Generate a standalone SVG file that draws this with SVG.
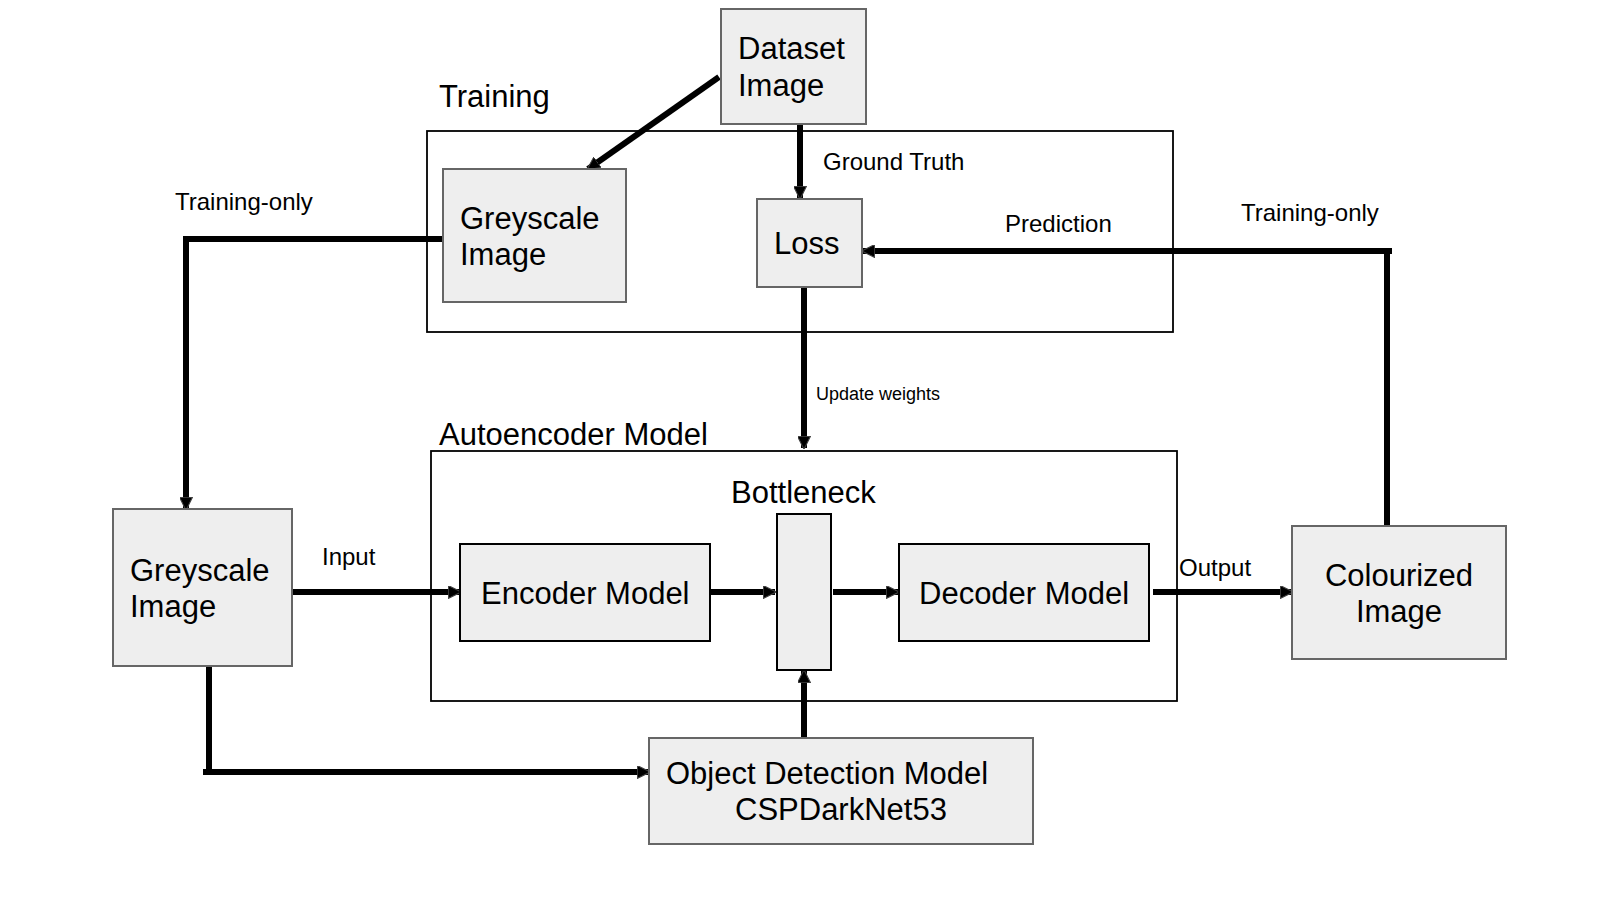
<svg xmlns="http://www.w3.org/2000/svg" width="1600" height="900" viewBox="0 0 1600 900">
<style>
.big{font-family:"Liberation Sans",Arial,sans-serif;font-size:31px;fill:#000}
.mid{font-family:"Liberation Sans",Arial,sans-serif;font-size:24px;fill:#000}
.sm{font-family:"Liberation Sans",Arial,sans-serif;font-size:18px;fill:#000}
.node{fill:#eeeeee;stroke:#666;stroke-width:2}
.nodek{fill:#eeeeee;stroke:#000;stroke-width:2}
.cont{fill:none;stroke:#000;stroke-width:1.8}
.edge{fill:none;stroke:#000;stroke-width:6;stroke-linejoin:miter}
</style>
<defs>
<marker id="ah" viewBox="0 0 10 10" refX="9" refY="5" markerWidth="13" markerHeight="13" markerUnits="userSpaceOnUse" orient="auto">
<path d="M0,0 L10,5 L0,10 z" fill="#000" stroke="#444" stroke-width="0.8"/>
</marker>
</defs>
<rect width="1600" height="900" fill="#fff"/>

<g id="training-container">
<rect class="cont" x="427" y="131" width="746" height="201"/>
<text class="big" x="439" y="107">Training</text>
</g>
<g id="autoencoder-container">
<rect class="cont" x="431" y="451" width="746" height="250"/>
<text class="big" x="439" y="445">Autoencoder Model</text>
<text class="big" x="731" y="503">Bottleneck</text>
</g>

<g id="connectors">
<path class="edge" d="M719,77 L588,169" marker-end="url(#ah)"/>
<path class="edge" d="M800,124 L800,198" marker-end="url(#ah)"/>
<path class="edge" d="M804,287 L804,448" marker-end="url(#ah)"/>
<path class="edge" d="M442,239 L186,239 L186,509" marker-end="url(#ah)"/>
<path class="edge" d="M1387,527 L1387,251 M1392,251 L863,251" marker-end="url(#ah)"/>
<path class="edge" d="M292,592 L460,592" marker-end="url(#ah)"/>
<path class="edge" d="M710,592 L775,592" marker-end="url(#ah)"/>
<path class="edge" d="M833,592 L898,592" marker-end="url(#ah)"/>
<path class="edge" d="M1153,592 L1292,592" marker-end="url(#ah)"/>
<path class="edge" d="M209,666 L209,772 M203,772 L649,772" marker-end="url(#ah)"/>
<path class="edge" d="M804,738 L804,671" marker-end="url(#ah)"/>
<text class="mid" x="823" y="170">Ground Truth</text>
<text class="mid" x="1005" y="232">Prediction</text>
<text class="mid" x="1241" y="221">Training-only</text>
<text class="mid" x="175" y="210">Training-only</text>
<text class="sm" x="816" y="400">Update weights</text>
<text class="mid" x="322" y="565">Input</text>
<text class="mid" x="1179" y="576">Output</text>
</g>

<g id="dataset-image">
<rect class="node" x="721" y="9" width="145" height="115"/>
<text class="big" x="738" y="59">Dataset</text>
<text class="big" x="738" y="96">Image</text>
</g>
<g id="greyscale-training">
<rect class="node" x="443" y="169" width="183" height="133"/>
<text class="big" x="460" y="229">Greyscale</text>
<text class="big" x="460" y="265">Image</text>
</g>
<g id="loss">
<rect class="node" x="757" y="199" width="105" height="88"/>
<text class="big" x="774" y="254">Loss</text>
</g>
<g id="greyscale-input">
<rect class="node" x="113" y="509" width="179" height="157"/>
<text class="big" x="130" y="581">Greyscale</text>
<text class="big" x="130" y="617">Image</text>
</g>
<g id="encoder">
<rect class="nodek" x="460" y="544" width="250" height="97"/>
<text class="big" x="481" y="604">Encoder Model</text>
</g>
<g id="bottleneck">
<rect class="nodek" x="777" y="514" width="54" height="156"/>
</g>
<g id="decoder">
<rect class="nodek" x="899" y="544" width="250" height="97"/>
<text class="big" x="919" y="604">Decoder Model</text>
</g>
<g id="colourized">
<rect class="node" x="1292" y="526" width="214" height="133"/>
<text class="big" x="1399" y="586" text-anchor="middle">Colourized</text>
<text class="big" x="1399" y="622" text-anchor="middle">Image</text>
</g>
<g id="object-detection">
<rect class="node" x="649" y="738" width="384" height="106"/>
<text class="big" x="666" y="784">Object Detection Model</text>
<text class="big" x="735" y="820">CSPDarkNet53</text>
</g>
</svg>
